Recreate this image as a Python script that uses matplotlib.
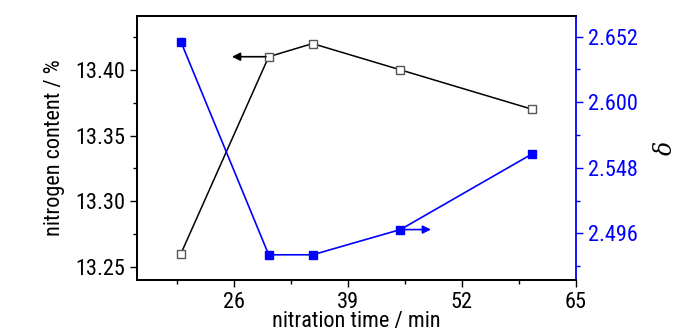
import matplotlib
matplotlib.use("Agg")
import matplotlib.pyplot as plt
from matplotlib.ticker import MultipleLocator, FormatStrFormatter

plt.rcParams['font.family'] = ['Roboto Condensed', 'Liberation Sans', 'DejaVu Sans']

time_min = [20, 30, 35, 45, 60]
nitrogen = [13.26, 13.41, 13.42, 13.40, 13.37]
delta = [2.648, 2.479, 2.479, 2.499, 2.559]

fig = plt.figure(figsize=(7, 3.33), dpi=100)
ax = fig.add_axes([137/700, 1 - 280/333, (576-137)/700, (280-16)/333])
ax2 = ax.twinx()

ax.plot(time_min, nitrogen, color='black', lw=1.1, marker='s', ms=5.5,
        mfc='white', mec='#555555', mew=1, zorder=3)
ax2.plot(time_min, delta, color='blue', lw=1.2, marker='s', ms=5.5,
         mfc='blue', mec='blue', zorder=3)

ax.set_xlim(15, 65)
ax.set_ylim(13.24, 13.441)
ax2.set_ylim(2.459, 2.6684)

ax.set_xticks([26, 39, 52, 65])
ax.xaxis.set_minor_locator(MultipleLocator(6.5))
ax.yaxis.set_major_locator(MultipleLocator(0.05))
ax.yaxis.set_minor_locator(MultipleLocator(0.025))
ax.yaxis.set_major_formatter(FormatStrFormatter('%.2f'))
ax2.yaxis.set_major_locator(MultipleLocator(0.052))
ax2.yaxis.set_minor_locator(MultipleLocator(0.026))
ax2.yaxis.set_major_formatter(FormatStrFormatter('%.3f'))

fs = 16
ax.tick_params(axis='both', which='major', labelsize=fs, length=5, width=1, direction='out')
ax.tick_params(axis='both', which='minor', length=3, width=1, direction='out')
ax2.tick_params(axis='y', which='major', labelsize=fs, length=5, width=1,
                direction='out', colors='blue')
ax2.tick_params(axis='y', which='minor', length=3, width=1, direction='out', colors='blue')

for s in ['left', 'bottom', 'top']:
    ax.spines[s].set_linewidth(1.3)
    ax2.spines[s].set_linewidth(1.3)
ax2.spines['right'].set_color('blue')
ax2.spines['right'].set_linewidth(1.3)
ax.spines['right'].set_visible(False)

ax.set_xlabel('nitration time / min', fontsize=fs, labelpad=-1)
ax.set_ylabel('nitrogen content / %', fontsize=fs, labelpad=7)
ax2.set_ylabel('δ', fontsize=17, labelpad=12, rotation=90,
               family='DejaVu Serif', fontstyle='italic')

# arrows pointing to each series' axis
ax.annotate('', xy=(25.5, 13.41), xytext=(30, 13.41),
            arrowprops=dict(arrowstyle='-|>', color='black', lw=1.2, mutation_scale=12))
ax2.annotate('', xy=(48.8, 2.499), xytext=(45, 2.499),
             arrowprops=dict(arrowstyle='-|>', color='blue', lw=1.2, mutation_scale=12))

fig.savefig('out.png', dpi=100)
